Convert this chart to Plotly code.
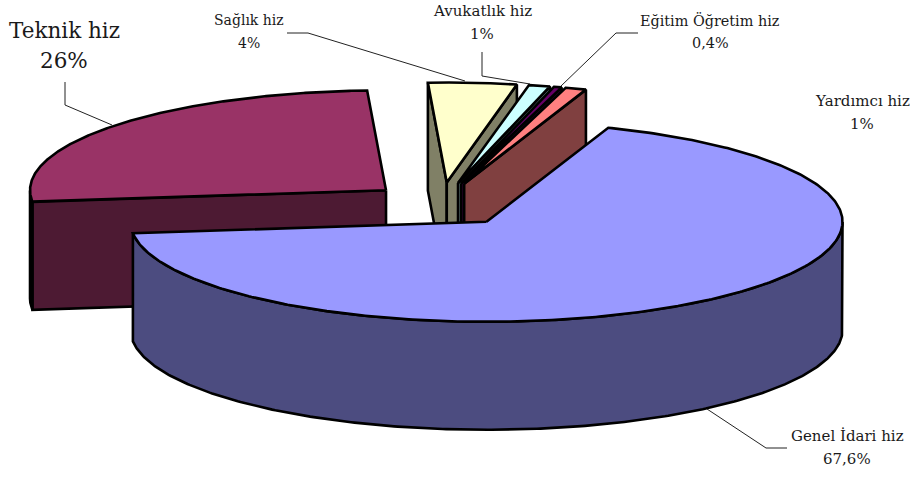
import numpy as np
import plotly.graph_objects as go

# ---- data ----
categories = ["Genel İdari hiz", "Teknik hiz", "Sağlık hiz", "Avukatlık hiz", "Eğitim Öğretim hiz", "Yardımcı hiz"]
values = [67.6, 26, 4, 1, 0.4, 1]
value_labels = ["67,6%", "26%", "4%", "1%", "0,4%", "1%"]
top_colors = ["#9999FF", "#993366", "#FFFFCC", "#CCFFFF", "#660066", "#FF8080"]
side_colors = ["#4C4C80", "#4D1A33", "#808066", "#668080", "#330033", "#804040"]
draw_order = [1, 2, 3, 4, 5, 0]

# ---- pie geometry (pixel-like axis units) ----
CX, CY = 441.5, 204.5
RX, RY = 356.0, 100.0
PX, PY = 72.6, 22.0
DEPTH = 108.0
START = 70.0
LW = 2.6
FONT = "DejaVu Serif"

fig = go.Figure()


def poly(xs, ys, fill):
    fig.add_trace(go.Scatter(x=list(xs), y=list(ys), mode="lines", fill="toself", fillcolor=fill,
                             line=dict(color="black", width=LW), hoverinfo="skip", showlegend=False))


def pt(ax, ay, t):
    r = np.radians(t)
    return ax + RX * np.cos(r), ay - RY * np.sin(r)


total = sum(values)
spans = []
angle = START
for v in values:
    low = angle - v / total * 360.0
    spans.append((low, angle))
    angle = low

for i in draw_order:
    low, high = spans[i]
    mid = np.radians((low + high) / 2)
    ax = CX + PX * np.cos(mid)
    ay = CY - PY * np.sin(mid)
    side = side_colors[i]
    # radial walls that face the viewer
    if np.cos(np.radians(high)) < 0:
        ex, ey = pt(ax, ay, high)
        poly([ax, ex, ex, ax, ax], [ay, ey, ey + DEPTH, ay + DEPTH, ay], side)
    if np.cos(np.radians(low)) > 0:
        ex, ey = pt(ax, ay, low)
        poly([ax, ex, ex, ax, ax], [ay, ey, ey + DEPTH, ay + DEPTH, ay], side)
    # outer rim wall: lower half of the ellipse within the slice
    ts = np.linspace(low, high, 400)
    lower = ts[np.sin(np.radians(ts)) <= 0]
    if len(lower) > 1:
        rx_, ry_ = pt(ax, ay, lower)
        poly(np.r_[rx_, rx_[::-1], rx_[0]], np.r_[ry_, ry_[::-1] + DEPTH, ry_[0]], side)
    # top face
    tx, ty = pt(ax, ay, ts[::-1])
    poly(np.r_[ax, tx, ax], np.r_[ay, ty, ay], top_colors[i])

# ---- leader lines ----
leaders = [
    [(787, 448), (766, 448), (707, 409)],
    [(65, 82), (65, 105), (112, 125)],
    [(287, 33), (308, 33), (465, 81)],
    [(482, 52), (482, 76), (530, 84)],
    [(638, 33), (616, 33), (561, 86)],
]
for seg in leaders:
    fig.add_trace(go.Scatter(x=[p[0] for p in seg], y=[p[1] for p in seg], mode="lines",
                             line=dict(color="#222222", width=1), hoverinfo="skip", showlegend=False))

# ---- labels: name x, name y, value y, font size ----
label_pos = {0: (847, 436, 459, 15), 1: (64, 30, 60, 21.5), 2: (249, 20, 43, 14), 3: (482, 11, 34, 15),
             4: (710, 20, 43, 14.4), 5: (862, 101, 124, 15)}
annotations = []
for i, (lx, ly, vy, fs) in label_pos.items():
    for text, y in ((categories[i], ly), (value_labels[i], vy)):
        annotations.append(dict(x=lx, y=y, xref="x", yref="y", showarrow=False, align="center",
                                text=text, font=dict(family=FONT, size=fs, color="#1a1a1a")))

fig.update_layout(
    width=915, height=477, autosize=False,
    margin=dict(l=0, r=0, t=0, b=0),
    paper_bgcolor="white", plot_bgcolor="white",
    showlegend=False, annotations=annotations,
    xaxis=dict(range=[0, 915], visible=False, fixedrange=True),
    yaxis=dict(range=[477, 0], visible=False, fixedrange=True),
)
fig.write_html("out.html", config={"displayModeBar": False},
               post_script="document.body.style.margin='0';")
